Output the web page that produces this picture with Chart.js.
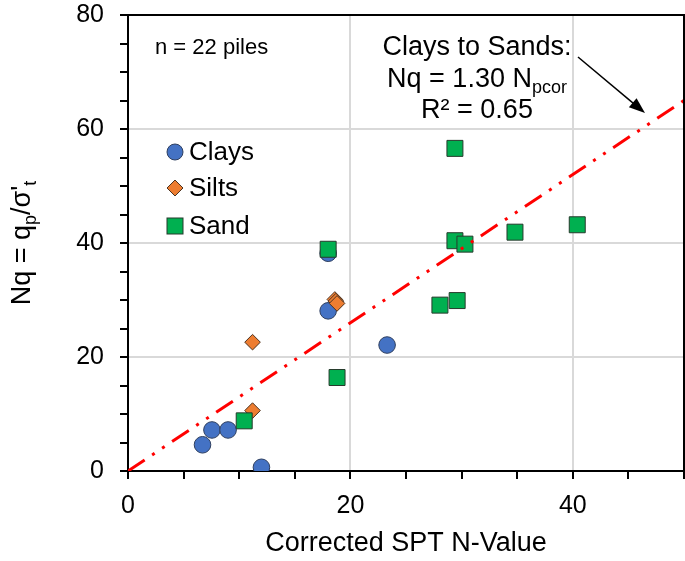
<!DOCTYPE html>
<html>
<head>
<meta charset="utf-8">
<script src="https://cdn.jsdelivr.net/npm/chart.js@4.4.0/dist/chart.umd.min.js"></script>
<style>
  html, body { margin: 0; padding: 0; background: #fff; }
  #wrap { width: 685px; height: 561px; }
</style>
</head>
<body>
<div id="wrap"><canvas id="chart" width="685" height="561"></canvas></div>
<script>
// Data
const clayX = [18.0, 18.0, 23.3, 7.55, 9.0, 6.7, 12.0];
const clayY = [38.2, 28.1, 22.1, 7.2, 7.2, 4.6, 0.65];
const siltX = [11.2, 11.2, 18.6, 18.7, 18.8];
const siltY = [22.6, 10.6, 30.1, 29.8, 29.4];
const sandX = [18.0, 18.8, 10.45, 29.4, 30.3, 34.8, 40.4, 28.05, 29.6, 29.4];
const sandY = [38.9, 16.4, 8.8, 40.4, 39.8, 41.9, 43.2, 29.1, 29.9, 56.6];
const fitX = [0, 50];
const fitY = [0, 65];
const xMajor = [0, 20, 40];
const yMajor = [0, 20, 40, 60, 80];

const FONT = '"Liberation Sans", Arial, sans-serif';

function toPoints(xs, ys) {
    return xs.map((x, i) => ({ x: x, y: ys[i] }));
}

// Draw legend markers, text annotations, frame and axis titles
const decor = {
    id: 'decor',
    afterDraw(chart) {
        const ctx = chart.ctx;
        const area = chart.chartArea;
        ctx.save();

        // top and right frame
        ctx.strokeStyle = '#000';
        ctx.lineWidth = 2;
        ctx.beginPath();
        ctx.moveTo(area.left, area.top);
        ctx.lineTo(area.right, area.top);
        ctx.lineTo(area.right, area.bottom);
        ctx.stroke();

        ctx.fillStyle = '#000';
        ctx.textBaseline = 'alphabetic';

        // n = 22 piles
        ctx.font = '22px ' + FONT;
        ctx.textAlign = 'left';
        ctx.fillText('n = 22 piles', 155, 54);

        // fit label
        ctx.font = '27px ' + FONT;
        ctx.textAlign = 'center';
        ctx.fillText('Clays to Sands:', 477, 55);
        ctx.fillText('R\u00b2 = 0.65', 477, 118);
        ctx.textAlign = 'left';
        const main = 'Nq = 1.30 N';
        const mw = ctx.measureText(main).width;
        ctx.font = '18px ' + FONT;
        const sw = ctx.measureText('pcor').width;
        const sx = 477 - (mw + sw) / 2;
        ctx.font = '27px ' + FONT;
        ctx.fillText(main, sx, 87);
        ctx.font = '18px ' + FONT;
        ctx.fillText('pcor', sx + mw, 93);

        // arrow
        const x1 = 578, y1 = 57, x2 = 645, y2 = 113;
        const ang = Math.atan2(y2 - y1, x2 - x1);
        ctx.strokeStyle = '#000';
        ctx.lineWidth = 1.5;
        ctx.beginPath();
        ctx.moveTo(x1, y1);
        ctx.lineTo(x2 - 12 * Math.cos(ang), y2 - 12 * Math.sin(ang));
        ctx.stroke();
        ctx.beginPath();
        ctx.moveTo(x2, y2);
        ctx.lineTo(x2 - 16 * Math.cos(ang) + 6 * Math.sin(ang), y2 - 16 * Math.sin(ang) - 6 * Math.cos(ang));
        ctx.lineTo(x2 - 16 * Math.cos(ang) - 6 * Math.sin(ang), y2 - 16 * Math.sin(ang) + 6 * Math.cos(ang));
        ctx.closePath();
        ctx.fill();

        // legend
        const lx = 175;
        ctx.lineWidth = 1;
        ctx.fillStyle = '#4472C4';
        ctx.strokeStyle = '#2F3F5F';
        ctx.beginPath();
        ctx.arc(lx, 152, 8, 0, Math.PI * 2);
        ctx.fill();
        ctx.stroke();

        ctx.fillStyle = '#ED7D31';
        ctx.strokeStyle = '#4d3320';
        ctx.beginPath();
        ctx.moveTo(lx, 188 - 8);
        ctx.lineTo(lx + 8, 188);
        ctx.lineTo(lx, 188 + 8);
        ctx.lineTo(lx - 8, 188);
        ctx.closePath();
        ctx.fill();
        ctx.stroke();

        ctx.fillStyle = '#00B050';
        ctx.strokeStyle = '#263a2c';
        ctx.fillRect(lx - 8, 226 - 8, 16, 16);
        ctx.strokeRect(lx - 8, 226 - 8, 16, 16);

        ctx.fillStyle = '#000';
        ctx.font = '26px ' + FONT;
        ctx.textBaseline = 'middle';
        ctx.fillText('Clays', 189, 153);
        ctx.fillText('Silts', 189, 189);
        ctx.fillText('Sand', 189, 227);

        // x title
        ctx.textAlign = 'center';
        ctx.textBaseline = 'alphabetic';
        ctx.font = '27px ' + FONT;
        ctx.fillText('Corrected SPT N-Value', (area.left + area.right) / 2, 551);

        // y title with subscripts
        ctx.translate(30, (area.top + area.bottom) / 2);
        ctx.rotate(-Math.PI / 2);
        const parts = [
            ['Nq = q', 27, 0],
            ['p', 18, 6],
            ['/\u03c3\'', 27, 0],
            ['t', 18, 6]
        ];
        let total = 0;
        parts.forEach(p => {
            ctx.font = p[1] + 'px ' + FONT;
            total += ctx.measureText(p[0]).width;
        });
        let cx = -total / 2;
        ctx.textAlign = 'left';
        parts.forEach(p => {
            ctx.font = p[1] + 'px ' + FONT;
            ctx.fillText(p[0], cx, p[2]);
            cx += ctx.measureText(p[0]).width;
        });

        ctx.restore();
    }
};

function noPad(s) {
    s.paddingTop = 0;
    s.paddingBottom = 0;
    s.paddingLeft = 0;
    s.paddingRight = 0;
}

const ctx = document.getElementById('chart').getContext('2d');
new Chart(ctx, {
    type: 'scatter',
    data: {
        datasets: [
            {
                label: 'Fit',
                type: 'line',
                data: toPoints(fitX, fitY),
                borderColor: '#FF0000',
                borderWidth: 3,
                borderDash: [20, 9, 3, 9, 3, 9],
                pointRadius: 0,
                fill: false
            },
            {
                label: 'Sand',
                data: toPoints(sandX, sandY),
                pointStyle: 'rect',
                pointRadius: 11.3,
                backgroundColor: '#00B050',
                borderColor: '#263a2c',
                borderWidth: 1
            },
            {
                label: 'Silts',
                data: toPoints(siltX, siltY),
                pointStyle: 'rectRot',
                pointRadius: 7.8,
                backgroundColor: '#ED7D31',
                borderColor: '#4d3320',
                borderWidth: 1
            },
            {
                label: 'Clays',
                data: toPoints(clayX, clayY),
                pointStyle: 'circle',
                pointRadius: 8.3,
                backgroundColor: '#4472C4',
                borderColor: '#2F3F5F',
                borderWidth: 1
            }
        ]
    },
    options: {
        responsive: false,
        animation: false,
        layout: { autoPadding: false, padding: { top: 15, right: 1, left: 0, bottom: 0 } },
        plugins: {
            legend: { display: false },
            tooltip: { enabled: false }
        },
        scales: {
            x: {
                type: 'linear',
                min: 0,
                max: 50,
                afterFit: s => { s.height = 90; noPad(s); },
                afterBuildTicks: s => {
                    s.ticks = [];
                    for (let v = 0; v <= 50; v += 5) s.ticks.push({ value: v });
                },
                ticks: {
                    autoSkip: false,
                    maxRotation: 0,
                    padding: 12,
                    color: '#000',
                    font: { family: FONT, size: 25 },
                    callback: v => xMajor.includes(v) ? String(v) : ''
                },
                grid: {
                    color: c => (c.tick && (c.tick.value === 20 || c.tick.value === 40)) ? '#d9d9d9' : 'rgba(0,0,0,0)',
                    lineWidth: 2,
                    tickColor: '#000',
                    tickLength: 8,
                    tickWidth: 2
                },
                border: { color: '#000', width: 2 }
            },
            y: {
                type: 'linear',
                min: 0,
                max: 80,
                afterFit: s => { s.width = 128; noPad(s); },
                afterBuildTicks: s => {
                    s.ticks = [];
                    for (let v = 0; v <= 80; v += 5) s.ticks.push({ value: v });
                },
                ticks: {
                    autoSkip: false,
                    padding: 16,
                    color: '#000',
                    font: { family: FONT, size: 25 },
                    callback: v => yMajor.includes(v) ? String(v) : ''
                },
                grid: {
                    color: c => (c.tick && [20, 40, 60].includes(c.tick.value)) ? '#d9d9d9' : 'rgba(0,0,0,0)',
                    lineWidth: 2,
                    tickColor: '#000',
                    tickLength: 8,
                    tickWidth: 2
                },
                border: { color: '#000', width: 2 }
            }
        }
    },
    plugins: [decor]
});
</script>
</body>
</html>
